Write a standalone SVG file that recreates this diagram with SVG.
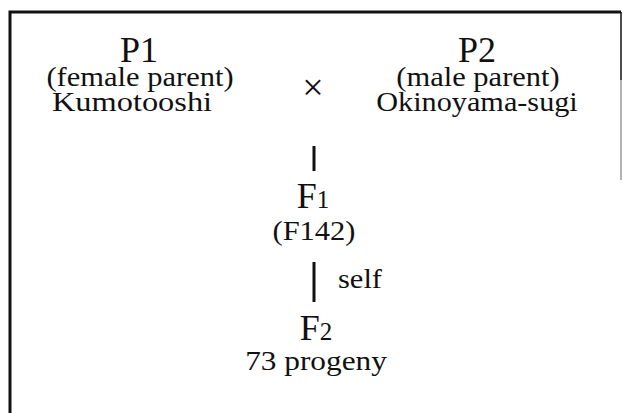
<svg xmlns="http://www.w3.org/2000/svg" width="624" height="413" viewBox="0 0 624 413">
<style>
.t{font-family:"Liberation Serif","Times New Roman",serif;fill:#111;text-anchor:middle}
.big{font-size:36px}
.sm{font-size:27px}
.sub{font-size:25px}
.ln{stroke:#111;fill:none}
</style>
<rect x="0" y="0" width="624" height="413" fill="#fff"/>
<g id="frame">
<path class="ln" d="M10 413 V12 H621" stroke-width="3"/>
<path class="ln" d="M621 12 V80" stroke-width="1.5"/>
<path d="M621 80 V180" stroke="#999" stroke-width="1.5"/>
</g>
<g id="p1">
<text class="t big" transform="translate(139,62)">P1</text>
<text class="t sm" transform="translate(140,86) scale(1.13,1)">(female parent)</text>
<text class="t sm" transform="translate(132,111) scale(1.2,1)">Kumotooshi</text>
</g>
<g id="cross">
<text class="t" style="font-size:38px" x="313" y="100">×</text>
</g>
<g id="p2">
<text class="t big" transform="translate(477,62)">P2</text>
<text class="t sm" transform="translate(478,86) scale(1.13,1)">(male parent)</text>
<text class="t sm" transform="translate(477,111) scale(1.12,1)">Okinoyama-sugi</text>
</g>
<g id="f1">
<text class="t" transform="translate(313,208)"><tspan class="big">F</tspan><tspan class="sub">1</tspan></text>
<text class="t sm" transform="translate(314,240) scale(1.13,1)">(F142)</text>
</g>
<g id="f2">
<text class="t" transform="translate(316,340)"><tspan class="big">F</tspan><tspan class="sub">2</tspan></text>
<text class="t sm" transform="translate(316,370) scale(1.16,1)">73 progeny</text>
</g>
<g id="connectors">
<line class="ln" x1="314" y1="146" x2="314" y2="171" stroke-width="3"/>
<line class="ln" x1="314" y1="262" x2="314" y2="302" stroke-width="3"/>
<text class="t sm" transform="translate(360,288) scale(1.13,1)">self</text>
</g>
</svg>
